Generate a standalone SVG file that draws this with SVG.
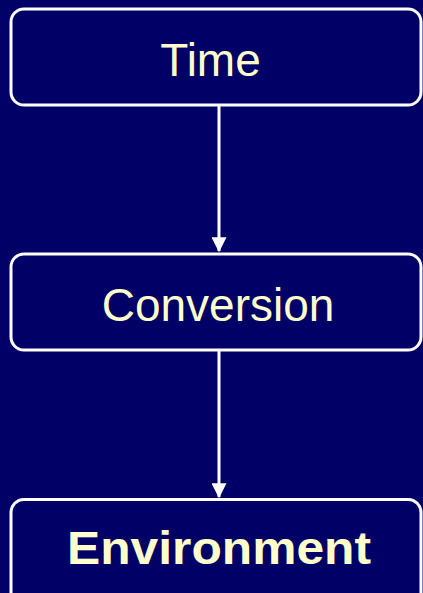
<svg xmlns="http://www.w3.org/2000/svg" width="423" height="593" viewBox="0 0 423 593">
<defs>
<style>
.box{fill:#000066;stroke:#ffffff;stroke-width:3}
.lbl{fill:#ffffcc;font-family:"Liberation Sans",Arial,sans-serif;font-size:46px;text-anchor:middle}
.conn{stroke:#ffffff;stroke-width:3;fill:none}
</style>
<marker id="ah" markerWidth="5" markerHeight="5" refX="4.6" refY="2.5" orient="auto" markerUnits="strokeWidth">
<path d="M0,0 L5,2.5 L0,5 Z" fill="#ffffff"/>
</marker>
</defs>
<rect width="423" height="593" fill="#000066"/>
<g id="connectors">
<line class="conn" x1="219" y1="105" x2="219" y2="251" marker-end="url(#ah)"/>
<line class="conn" x1="219" y1="350" x2="219" y2="497" marker-end="url(#ah)"/>
</g>
<g id="time">
<rect class="box" x="11" y="9" width="410" height="96" rx="13"/>
<text class="lbl" x="210.5" y="76">Time</text>
</g>
<g id="conversion">
<rect class="box" x="11" y="254" width="410" height="96" rx="13"/>
<text class="lbl" x="218" y="321">Conversion</text>
</g>
<g id="environment">
<rect class="box" x="11" y="499.5" width="410" height="110" rx="13"/>
<text class="lbl" x="219" y="564" font-weight="bold" textLength="304" lengthAdjust="spacingAndGlyphs">Environment</text>
</g>
</svg>
